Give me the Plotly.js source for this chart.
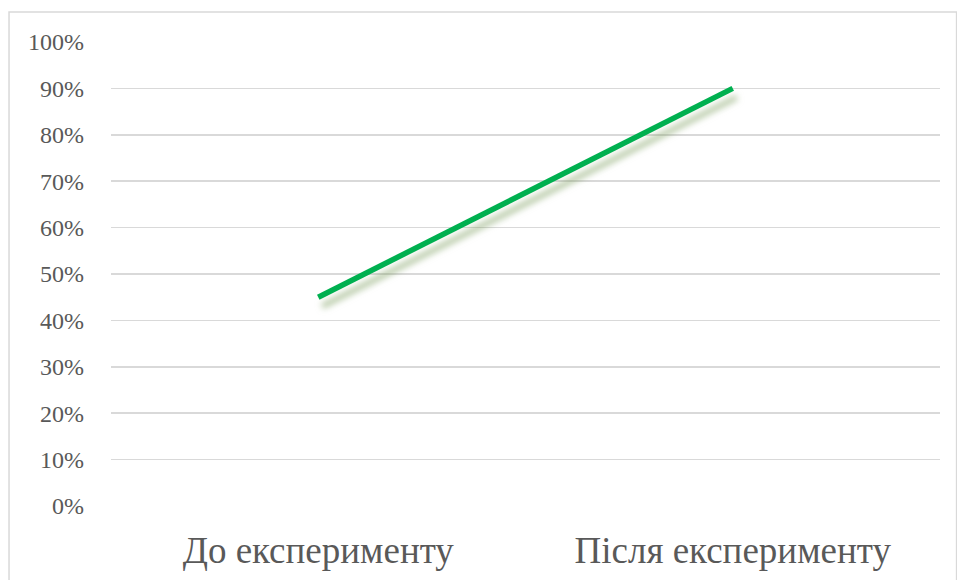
<!DOCTYPE html>
<html>
<head>
<meta charset="utf-8">
<script src="https://cdn.plot.ly/plotly-3.0.1.min.js"></script>
<style>
html,body{margin:0;padding:0;background:#fff;}
#chart{width:957px;height:580px;}
.scatterlayer .trace path.js-line{filter:drop-shadow(4px 9px 3px rgba(120,155,90,0.55));}
</style>
</head>
<body>
<div id="chart"></div>
<script>
const categories = ["До експерименту", "Після експерименту"];
const values = [0.45, 0.90];
const yTicks = [0,0.1,0.2,0.3,0.4,0.5,0.6,0.7,0.8,0.9,1.0];

const serif = "Times New Roman, Liberation Serif, DejaVu Serif, serif";

const trace = {
  x: categories,
  y: values,
  type: "scatter",
  mode: "lines",
  line: {color: "#00b050", width: 5.5},
  hoverinfo: "none"
};

const layout = {
  width: 957, height: 580,
  margin: {l: 111, r: 17, t: 42, b: 74},
  paper_bgcolor: "#ffffff",
  plot_bgcolor: "#ffffff",
  showlegend: false,
  font: {family: serif, color: "#595959"},
  xaxis: {
    type: "category",
    range: [-0.5, 1.5],
    showgrid: false, zeroline: false, showline: false,
    ticks: "", tickfont: {family: serif, size: 37, color: "#595959"},
    ticklabelstandoff: 19
  },
  yaxis: {
    range: [0, 1.0],
    tickvals: yTicks,
    tickformat: ".0%",
    showgrid: true, gridcolor: "#d9d9d9", gridwidth: 1.5,
    zeroline: false, showline: false, ticks: "",
    tickfont: {family: serif, size: 24, color: "#595959"},
    ticklabelstandoff: 26
  },
  shapes: [{
    type: "rect", xref: "paper", yref: "paper",
    x0: -0.123, x1: 1.02, y0: -0.2, y1: 1.0647,
    line: {color: "#d9d9d9", width: 1.5}, fillcolor: "rgba(0,0,0,0)", layer: "below"
  }]
};

Plotly.newPlot("chart", [trace], layout, {displayModeBar: false, staticPlot: true});
</script>
</body>
</html>
